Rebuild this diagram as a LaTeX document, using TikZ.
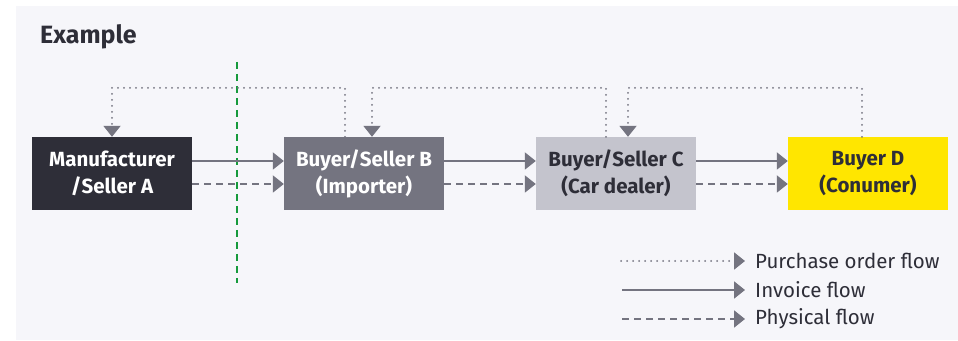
\documentclass[tikz,border=0pt]{standalone}
\usepackage{fontspec}
\setmainfont{Fira Sans}
\usetikzlibrary{arrows.meta}

\definecolor{eydark}{HTML}{2E2E38}
\definecolor{eygrey}{HTML}{747480}
\definecolor{eylight}{HTML}{C4C4CD}
\definecolor{eyyellow}{HTML}{FFE600}
\definecolor{eypanel}{HTML}{F6F6FA}
\definecolor{eygreen}{HTML}{169A3C}

\tikzset{
  party/.style={minimum width=160pt, minimum height=73pt, inner sep=0pt,
    align=center, font=\bfseries\fontsize{20.5}{27}\selectfont},
  flow/.style={draw=eygrey, line width=2pt,
    -{Triangle[length=11pt,width=17pt]}},
  invoice/.style={flow},
  physical/.style={flow, dash pattern=on 7pt off 5pt},
  purchase/.style={flow, line cap=round, dash pattern=on 0pt off 6pt},
  legendtext/.style={anchor=west, inner sep=0pt, text=eydark,
    font=\fontsize{20.5}{24}\selectfont}
}

\begin{document}
\begin{tikzpicture}[x=1pt, y=1pt]
  \useasboundingbox (0,0) rectangle (958,340);
  \fill[eypanel] (16,0) rectangle (958,334);

  % Title
  \node[anchor=west, inner sep=0pt, text=eydark,
        font=\bfseries\fontsize{25}{30}\selectfont] (title) at (40,303) {Example};

  % Parties
  \node[party, fill=eydark, text=white] (A) at (112,166.5) {Manufacturer\\/Seller A};
  \node[party, fill=eygrey, text=white] (B) at (364,166.5) {Buyer/Seller B\\(Importer)};
  \node[party, fill=eylight, text=eydark] (C) at (616,166.5) {Buyer/Seller C\\(Car dealer)};
  \node[party, fill=eyyellow, text=eydark] (D) at (868,166.5) {Buyer D\\(Conumer)};

  % Border line
  \coordinate (border top) at (237,278);
  \coordinate (border bottom) at (237,57);
  \draw[eygreen, line width=2.5pt, dash pattern=on 7pt off 5pt]
    (border top) -- (border bottom);

  % Invoice and physical flows
  \foreach \u/\v in {A/B, B/C, C/D} {
    \draw[invoice] ([yshift=12.5pt]\u.east) -- ([yshift=12.5pt]\v.west);
    \draw[physical] ([yshift=-10.5pt]\u.east) -- ([yshift=-10.5pt]\v.west);
  }

  % Purchase orders
  \draw[purchase] ([xshift=-19pt]B.north) -- ++(0,49) -| (A.north);
  \draw[purchase] ([xshift=-10pt]C.north) -- ++(0,49) -| ([xshift=8pt]B.north);
  \draw[purchase] ([xshift=-6pt]D.north) -- ++(0,49) -| ([xshift=12pt]C.north);

  % Legend
  \node[legendtext] (lpo) at (755,79) {Purchase order flow};
  \node[legendtext] (linv) at (755,50) {Invoice flow};
  \node[legendtext] (lphy) at (755,21) {Physical flow};
  \coordinate (spo) at (621,79);
  \coordinate (sinv) at (622,50);
  \coordinate (sphy) at (622,21);
  \draw[purchase] (spo) -- ([xshift=-10pt]lpo.west);
  \draw[invoice] (sinv) -- ([xshift=-10pt]linv.west);
  \draw[physical] (sphy) -- ([xshift=-10pt]lphy.west);
\end{tikzpicture}
\end{document}
